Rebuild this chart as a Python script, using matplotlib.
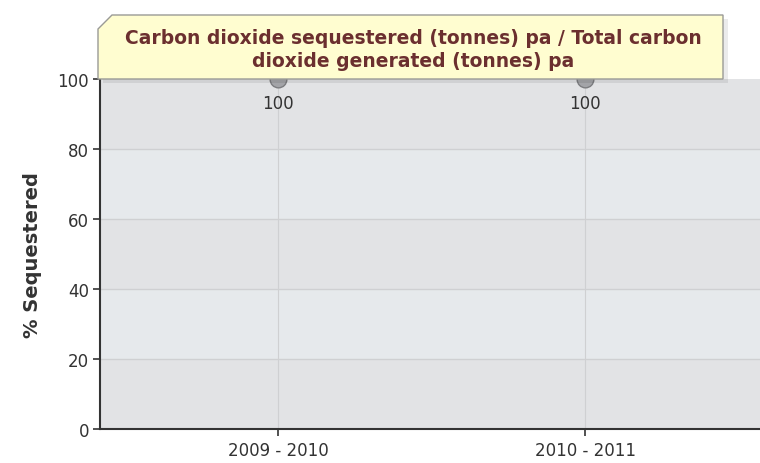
import matplotlib.pyplot as plt
from matplotlib.patches import Polygon

periods = ["2009 - 2010", "2010 - 2011"]
pct_sequestered = [100, 100]
y_ticks = [0, 20, 40, 60, 80, 100]
title = "Carbon dioxide sequestered (tonnes) pa / Total carbon\ndioxide generated (tonnes) pa"


def main():
    W, H = 760, 464
    fig = plt.figure(figsize=(W / 100, H / 100), dpi=100)
    ax = fig.add_axes([100 / W, 1 - 430 / H, 660 / W, 350 / H])

    x = list(range(len(periods)))

    # alternating bands
    for i in range(len(y_ticks) - 1):
        c = "#e2e3e5" if i % 2 == 0 else "#e6e9ec"
        ax.axhspan(y_ticks[i], y_ticks[i + 1], color=c, zorder=0, lw=0)
    for t in y_ticks[1:-1]:
        ax.axhline(t, color="#cfd0d2", lw=1, zorder=1)
    for xi in x:
        ax.axvline(xi, color="#cfd0d2", lw=0.8, zorder=1)

    ax.plot(x, pct_sequestered, linestyle="none", marker="o", markersize=12,
            markerfacecolor="#a3a4a8", markeredgecolor="#7c7d80", zorder=3,
            clip_on=False)
    for xi, v in zip(x, pct_sequestered):
        ax.annotate(str(v), (xi, v), xytext=(0, -11), textcoords="offset points",
                    ha="center", va="top", fontsize=12, color="#333333")

    ax.set_xlim(-0.58, 1.57)
    ax.set_ylim(0, 100)
    ax.set_yticks(y_ticks)
    ax.set_xticks(x)
    ax.set_xticklabels(periods)
    ax.tick_params(axis="both", labelsize=12, colors="#333333", length=5, width=1.2)
    ax.tick_params(axis="y", pad=3)
    ax.tick_params(axis="x", pad=4)

    for s in ["top", "right"]:
        ax.spines[s].set_visible(False)
    ax.spines["left"].set_color("#333333")
    ax.spines["bottom"].set_color("#333333")
    ax.spines["left"].set_linewidth(1.5)
    ax.spines["bottom"].set_linewidth(1.5)

    ax.set_ylabel("% Sequestered", fontsize=14, fontweight="bold", color="#333333",
                  labelpad=11)

    # title box with clipped corner
    def fx(px):
        return px / W

    def fy(py):
        return 1 - py / H

    shadow = Polygon([(fx(103), fy(34)), (fx(117), fy(20)), (fx(728), fy(20)),
                      (fx(728), fy(84)), (fx(103), fy(84))],
                     closed=True, transform=fig.transFigure, facecolor="#000000",
                     alpha=0.08, edgecolor="none", zorder=4)
    fig.patches.append(shadow)
    box = Polygon([(fx(98), fy(30)), (fx(112), fy(16)), (fx(723), fy(16)),
                   (fx(723), fy(80)), (fx(98), fy(80))],
                  closed=True, transform=fig.transFigure, facecolor="#fffdd0",
                  edgecolor="#9a9a96", lw=1, zorder=5)
    fig.patches.append(box)
    fig.text(fx(413), fy(50), title, ha="center", va="center", fontsize=13.5,
             fontweight="bold", color="#6b2f2f", zorder=6, linespacing=1.3)

    fig.savefig("out.png", dpi=100)


if __name__ == "__main__":
    main()
